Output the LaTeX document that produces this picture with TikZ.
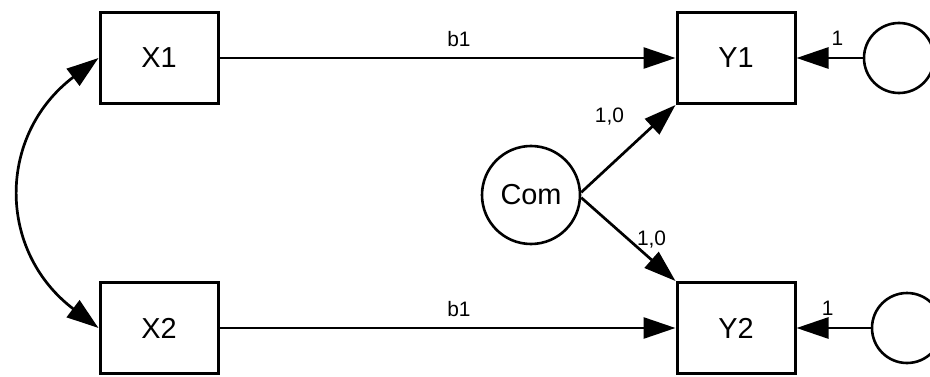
\documentclass[tikz,border=0pt]{standalone}
\usepackage{fontspec}
\setmainfont{Liberation Sans}
\usetikzlibrary{arrows.meta}

\tikzset{
  obs/.style={draw, line width=3bp, minimum width=118bp, minimum height=91bp,
              inner sep=0pt, font=\fontsize{29}{33}\selectfont},
  lat/.style={draw, circle, line width=2.6bp, inner sep=0pt,
              font=\fontsize{29}{33}\selectfont},
  path/.style={line width=2.7bp, -{Triangle[length=32bp,width=21bp]}},
  cov/.style={line width=2.7bp, {Triangle[length=32bp,width=21bp]}-{Triangle[length=32bp,width=21bp]}},
  lbl/.style={inner sep=0pt, font=\fontsize{21}{24}\selectfont}
}

\begin{document}
\begin{tikzpicture}[x=1bp, y=1bp]
  \useasboundingbox (0,0) rectangle (930,376);

  % observed variables
  \node[obs] (X1) at (159,318) {X1};
  \node[obs] (X2) at (159,48)  {X2};
  \node[obs] (Y1) at (736,318) {Y1};
  \node[obs] (Y2) at (736,48)  {Y2};

  % latent variables
  \node[lat, minimum size=98bp] (Com) at (531,181) {Com};
  \node[lat, minimum size=70bp] (E1) at (899,318) {};
  \node[lat, minimum size=70bp] (E2) at (907,48) {};

  % covariance between the predictors
  \draw[cov] (X1.west) .. controls (-3,241) and (-3,125) .. (X2.west);

  % regression paths
  \draw[path] (X1.east) -- node[lbl, pos=0.525, yshift=19bp] {b1} (Y1.west);
  \draw[path] (X2.east) -- node[lbl, pos=0.525, yshift=19bp] {b1} (Y2.west);

  % common factor loadings
  \draw[path] (Com.3) -- node[lbl, pos=0.575, xshift=-26bp, yshift=26bp] {1,0} (Y1.south west);
  \draw[path] (Com.-3) -- node[lbl, pos=0.64, xshift=10bp, yshift=11bp] {1,0} (Y2.north west);

  % residuals
  \draw[path] (E1.west) -- node[lbl, pos=0.38, yshift=20bp] {1} (Y1.east);
  \draw[path] (E2.west) -- node[lbl, pos=0.58, yshift=20bp] {1} (Y2.east);
\end{tikzpicture}
\end{document}
